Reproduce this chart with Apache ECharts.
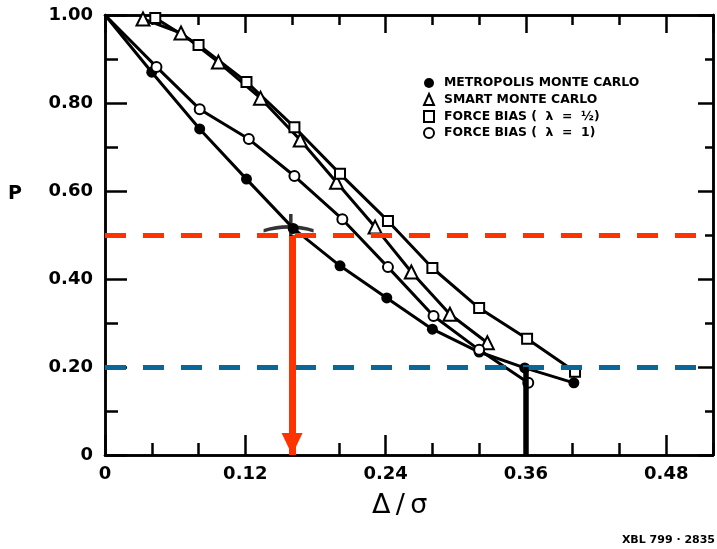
<!DOCTYPE html>
<html>
<head>
<meta charset="utf-8">
<script src="https://cdn.jsdelivr.net/npm/echarts@6/dist/echarts.min.js"></script>
<style>
  html, body { margin: 0; padding: 0; background: #fff; }
  #chart { width: 717px; height: 549px; }
</style>
</head>
<body>
<div id="chart"></div>
<script>
// ---- data ----
const seriesNames = [
  'METROPOLIS MONTE CARLO',
  'SMART MONTE CARLO',
  'FORCE BIAS (  \u03bb  =  \u00bd)',
  'FORCE BIAS (  \u03bb  =  1)'
];
const xMetropolis = [0, 0.040, 0.081, 0.121, 0.161, 0.201, 0.241, 0.280, 0.320, 0.359, 0.401];
const pMetropolis = [1.0, 0.870, 0.741, 0.627, 0.515, 0.430, 0.357, 0.286, 0.234, 0.198, 0.164];
const xSmart = [0.0325, 0.065, 0.097, 0.133, 0.167, 0.198, 0.231, 0.262, 0.295, 0.327];
const pSmart = [0.991, 0.959, 0.893, 0.811, 0.716, 0.620, 0.518, 0.416, 0.320, 0.255];
const xForceHalf = [0.043, 0.080, 0.121, 0.162, 0.201, 0.242, 0.280, 0.320, 0.361, 0.402];
const pForceHalf = [0.993, 0.932, 0.848, 0.745, 0.639, 0.532, 0.425, 0.334, 0.264, 0.189];
const xForceOne = [0, 0.044, 0.081, 0.123, 0.162, 0.203, 0.242, 0.281, 0.320, 0.362];
const pForceOne = [1.0, 0.882, 0.786, 0.718, 0.634, 0.536, 0.427, 0.316, 0.239, 0.164];

const xTickValues = [0, 0.12, 0.24, 0.36, 0.48];
const xTickLabels = ['0', '0.12', '0.24', '0.36', '0.48'];
const yTickValues = [0, 0.2, 0.4, 0.6, 0.8, 1.0];
const yTickLabels = ['0', '0.20', '0.40', '0.60', '0.80', '1.00'];

const refLineRed = 0.5;      // red dashed level
const refLineBlue = 0.2;     // blue dashed level
const arrowX = 0.16;         // red arrow position
const blackBarX = 0.36;      // black vertical bar position
const blackBarTop = 0.2;
const crossPoint = [[0.157, 0.523]];

// ---- helpers ----
// the curves start at (0, 1.00) without a marker there
function zip(xs, ys) {
  return xs.map((x, i) => (x === 0 ? { value: [x, ys[i]], symbol: 'none' } : [x, ys[i]]));
}
function lookup(vals, labels, v) {
  for (let i = 0; i < vals.length; i++) if (Math.abs(vals[i] - v) < 1e-6) return labels[i];
  return '';
}
const FONT = 'DejaVu Sans';
const AX = { color: '#000', width: 2.5 };

function xAx(pos, interval, len, labels) {
  return {
    type: 'value', position: pos, min: 0, max: 0.52, interval: interval,
    axisLine: { show: true, onZero: false, lineStyle: AX },
    axisTick: { show: true, inside: true, length: len, lineStyle: { color: '#000', width: 2.5 } },
    axisLabel: labels ? {
      show: true, margin: 10, color: '#000', fontFamily: FONT, fontWeight: 'bold', fontSize: 18,
      showMaxLabel: false,
      formatter: v => lookup(xTickValues, xTickLabels, v)
    } : { show: false },
    splitLine: { show: false }
  };
}
function yAx(pos, interval, len, labels) {
  return {
    type: 'value', position: pos, min: 0, max: 1, interval: interval,
    axisLine: { show: true, onZero: false, lineStyle: AX },
    axisTick: { show: true, inside: true, length: len, lineStyle: { color: '#000', width: 2.5 } },
    axisLabel: labels ? {
      show: true, margin: 12, color: '#000', fontFamily: FONT, fontWeight: 'bold', fontSize: 18,
      formatter: v => lookup(yTickValues, yTickLabels, v)
    } : { show: false },
    splitLine: { show: false }
  };
}

const lineBase = {
  type: 'line', xAxisIndex: 0, yAxisIndex: 0, silent: true,
  lineStyle: { color: '#000', width: 3 },
  emphasis: { disabled: true }
};

const chart = echarts.init(document.getElementById('chart'));
chart.setOption({
  animation: false,
  backgroundColor: '#fff',
  grid: { left: 105, right: 4, top: 15, bottom: 94 },
  xAxis: [
    xAx('bottom', 0.12, 20, true),
    xAx('bottom', 0.04, 12, false),
    xAx('top', 0.12, 18, false),
    xAx('top', 0.04, 10, false)
  ],
  yAxis: [
    yAx('left', 0.2, 22, true),
    yAx('left', 0.1, 13, false),
    yAx('right', 0.2, 15, false),
    yAx('right', 0.1, 8, false)
  ],
  legend: {
    orient: 'vertical', left: 418, top: 72, itemWidth: 10, itemHeight: 11, itemGap: 4,
    selectedMode: false,
    textStyle: { color: '#000', fontFamily: FONT, fontWeight: 'bold', fontSize: 12.4, padding: [0, 0, 0, 5] },
    data: [
      { name: seriesNames[0], icon: 'circle' },
      { name: seriesNames[1], icon: 'emptyTriangle' },
      { name: seriesNames[2], icon: 'emptyRect' },
      { name: seriesNames[3], icon: 'emptyCircle' }
    ]
  },
  graphic: [
    { type: 'text', left: 8, top: 185, style: { text: 'P', fill: '#000', font: 'bold 19px "DejaVu Sans"' } },
    { type: 'text', left: 372, top: 492, style: { text: '\u0394\u2009/\u2009\u03c3', fill: '#000', font: '27px "DejaVu Sans"' } },
    { type: 'text', right: 2, top: 535, style: { text: 'XBL 799 \u00b7 2835', fill: '#000', font: 'bold 11px "DejaVu Sans"' } }
  ],
  series: [
    Object.assign({}, lineBase, {
      name: seriesNames[0], data: zip(xMetropolis, pMetropolis),
      symbol: 'circle', symbolSize: 11, showSymbol: true,
      itemStyle: { color: '#000' }
    }),
    Object.assign({}, lineBase, {
      name: seriesNames[1], data: zip(xSmart, pSmart),
      symbol: 'emptyTriangle', symbolSize: 13, showSymbol: true,
      itemStyle: { color: '#000', borderWidth: 2.5 }
    }),
    Object.assign({}, lineBase, {
      name: seriesNames[2], data: zip(xForceHalf, pForceHalf),
      symbol: 'emptyRect', symbolSize: 10, showSymbol: true,
      itemStyle: { color: '#000', borderWidth: 2.5 }
    }),
    Object.assign({}, lineBase, {
      name: seriesNames[3], data: zip(xForceOne, pForceOne),
      symbol: 'emptyCircle', symbolSize: 10, showSymbol: true,
      itemStyle: { color: '#000', borderWidth: 2.5 }
    }),
    {
      type: 'scatter', name: 'annotations', xAxisIndex: 0, yAxisIndex: 0, silent: true, z: 5,
      data: crossPoint,
      // hand-drawn cross: curved horizontal stroke + short vertical stroke (filled outline)
      symbol: 'path://M0 15 Q25 7 50 15 L50 18.5 Q25 11 0 18.5 Z M25.5 0 L29 0 L29 22 L25.5 22 Z',
      symbolSize: [50, 22],
      itemStyle: { color: '#000' },
      markLine: {
        silent: true, animation: false, symbol: 'none', label: { show: false },
        emphasis: { disabled: true },
        data: [
          { yAxis: refLineRed, lineStyle: { color: '#ff3300', width: 5, type: [21, 17] } },
          { yAxis: refLineBlue, lineStyle: { color: '#0a679a', width: 5, type: [21, 17] } },
          [
            { coord: [arrowX, refLineRed], symbol: 'none', lineStyle: { color: '#ff3300', width: 7, type: 'solid' } },
            { coord: [arrowX, 0], symbol: 'triangle', symbolSize: [21, 22], symbolOffset: [0, 11] }
          ],
          [
            { coord: [blackBarX, blackBarTop], symbol: 'none', lineStyle: { color: '#000', width: 5.5, type: 'solid' } },
            { coord: [blackBarX, 0], symbol: 'none' }
          ]
        ]
      }
    }
  ]
});
</script>
</body>
</html>
